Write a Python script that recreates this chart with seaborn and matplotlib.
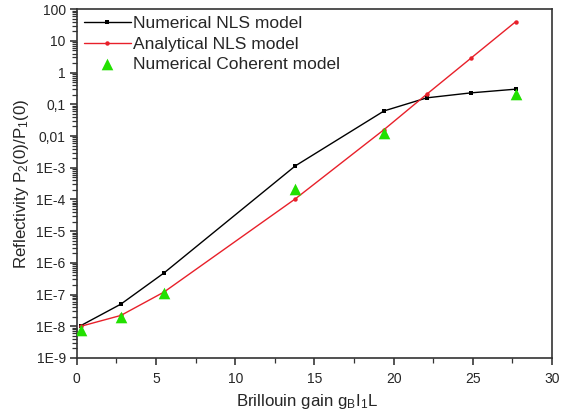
import numpy as np
import pandas as pd
import seaborn as sns
import matplotlib
matplotlib.use("Agg")
import matplotlib.pyplot as plt
from matplotlib.ticker import FixedLocator, FixedFormatter, MultipleLocator, NullFormatter

# values
gain_nls = [0.25, 2.78, 5.5, 13.8, 19.4, 22.1, 24.9, 27.7]
refl_numerical = [1.05e-8, 5.0e-8, 4.8e-7, 1.15e-3, 0.062, 0.16, 0.23, 0.30]
refl_analytical = [1.0e-8, 2.2e-8, 1.2e-7, 1.05e-4, 0.016, 0.21, 2.9, 40.0]

gain_coherent = [0.25, 2.78, 5.5, 13.8, 19.4, 27.7]
refl_coherent = [7.5e-9, 2.0e-8, 1.15e-7, 2.2e-4, 0.0128, 0.21]

ytick_vals = [1e-9, 1e-8, 1e-7, 1e-6, 1e-5, 1e-4, 1e-3, 1e-2, 1e-1, 1, 10, 100]
ytick_labels = ["1E-9", "1E-8", "1E-7", "1E-6", "1E-5", "1E-4", "1E-3",
                "0,01", "0,1", "1", "10", "100"]

sns.set_style("ticks")
plt.rcParams["font.family"] = ["Liberation Sans", "DejaVu Sans"]
plt.rcParams["mathtext.default"] = "regular"

df_num = pd.DataFrame({"gain": gain_nls, "refl": refl_numerical})
df_ana = pd.DataFrame({"gain": gain_nls, "refl": refl_analytical})
df_coh = pd.DataFrame({"gain": gain_coherent, "refl": refl_coherent})

fig = plt.figure(figsize=(5.61, 4.17), dpi=100)
ax = fig.add_axes([0.137, 0.1415, 0.847, 0.8365])

sns.lineplot(data=df_num, x="gain", y="refl", ax=ax, color="black", lw=1.0,
             marker="s", markersize=3, markeredgewidth=0, label="Numerical NLS model")
sns.lineplot(data=df_ana, x="gain", y="refl", ax=ax, color="#e8202a", lw=1.0,
             marker="o", markersize=3.2, markeredgewidth=0, label="Analytical NLS model")
sns.scatterplot(data=df_coh, x="gain", y="refl", ax=ax, color="#22e000", marker="^",
                s=70, linewidth=0, label="Numerical Coherent model", zorder=3)

ax.set_yscale("log")
ax.set_xlim(0, 30)
ax.set_ylim(1e-9, 100)
ax.xaxis.set_major_locator(MultipleLocator(5))
ax.xaxis.set_minor_locator(MultipleLocator(2.5))
ax.yaxis.set_major_locator(FixedLocator(ytick_vals))
ax.yaxis.set_major_formatter(FixedFormatter(ytick_labels))
minor_y = [m * 10.0 ** e for e in range(-9, 2) for m in range(2, 10)]
ax.yaxis.set_minor_locator(FixedLocator(minor_y))
ax.yaxis.set_minor_formatter(NullFormatter())

ax.tick_params(which="major", direction="out", length=5, width=1.1, labelsize=10, pad=3)
ax.tick_params(axis="x", which="major", pad=5)
ax.tick_params(which="minor", direction="out", length=3.5, width=0.9,
               left=True, bottom=True, color="#333333")
for s in ax.spines.values():
    s.set_linewidth(1.2)
    s.set_color("#333333")

ax.set_xlabel("Brillouin gain g$_B$I$_1$L", fontsize=12.2)
ax.xaxis.set_label_coords(0.485, -0.098)
ax.set_ylabel("Reflectivity P$_2$(0)/P$_1$(0)", fontsize=12.2, labelpad=4)

ax.legend(loc="upper left", frameon=False, fontsize=12.5, handlelength=2.7,
          handletextpad=0.15, labelspacing=0.3, borderaxespad=0.0,
          markerscale=1.0)

fig.savefig("out.png", dpi=100)
